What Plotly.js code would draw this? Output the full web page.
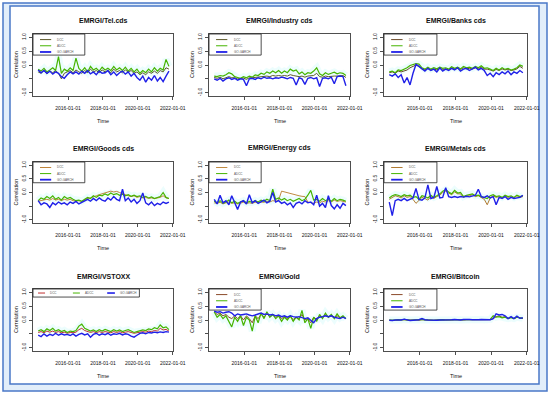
<!DOCTYPE html>
<html><head><meta charset="utf-8">
<script src="https://cdn.plot.ly/plotly-3.0.1.min.js"></script>
<style>html,body{margin:0;padding:0;background:#fff;}#chart{width:550px;height:394px;}</style>
</head><body><div id="chart"></div>
<script>
// ---------- data ----------
const dates = ["2014-04-15","2014-06-15","2014-08-15","2014-10-15","2014-12-15","2015-02-15","2015-04-15","2015-06-15","2015-08-15","2015-10-15","2015-12-15",
"2016-02-15","2016-04-15","2016-06-15","2016-08-15","2016-10-15","2016-12-15","2017-02-15","2017-04-15","2017-06-15","2017-08-15","2017-10-15","2017-12-15",
"2018-02-15","2018-04-15","2018-06-15","2018-08-15","2018-10-15","2018-12-15","2019-02-15","2019-04-15","2019-06-15","2019-08-15","2019-10-15","2019-12-15",
"2020-02-15","2020-04-15","2020-06-15","2020-08-15","2020-10-15","2020-12-15","2021-02-15","2021-04-15","2021-06-15","2021-08-15","2021-10-15"];
const titles = ["EMRGI/Tel.cds","EMRGI/Industry cds","EMRGI/Banks cds","EMRGI/Goods cds","EMRGI/Energy cds","EMRGI/Metals cds","EMRGI/VSTOXX","EMRGI/Gold","EMRGI/Bitcoin"];
const seriesNames = ["DCC","ADCC","GO-GARCH"];
const xTickVals = ["2016-01-01","2018-01-01","2020-01-01","2022-01-01"];
const xTickText = ["2016-01-01","2018-01-01","2020-01-01","2022-01-01"];
const yTickVals = [-1,-0.5,0,0.5,1];
const yTickText = ["-1.0","","0.0","0.5","1.0"];
const xTitle = "Time";
const yTitle = "Correlation";

const telS1 = [-0.25,-0.30,-0.20,-0.32,-0.22,-0.28,-0.20,-0.30,-0.50,-0.30,-0.25,-0.20,-0.28,-0.18,-0.25,-0.30,-0.20,-0.28,-0.15,-0.25,-0.20,-0.28,-0.18,-0.25,-0.20,-0.28,-0.15,-0.25,-0.20,-0.28,-0.18,-0.25,-0.20,-0.30,-0.25,-0.35,-0.28,-0.35,-0.25,-0.30,-0.22,-0.30,-0.20,-0.25,-0.10,-0.15];
const telS2 = [-0.15,-0.22,-0.12,-0.25,-0.18,-0.10,-0.20,0.30,-0.30,-0.15,-0.22,-0.10,-0.20,0.25,-0.12,-0.22,-0.10,-0.25,-0.05,-0.18,-0.12,-0.22,-0.08,-0.18,-0.12,-0.20,-0.05,-0.18,-0.10,-0.20,-0.08,-0.22,-0.12,-0.25,-0.15,-0.30,-0.20,-0.28,-0.15,-0.25,-0.10,-0.22,-0.12,-0.18,0.20,-0.05];
const telS3 = [-0.18,-0.28,-0.20,-0.30,-0.22,-0.33,-0.25,-0.30,-0.42,-0.48,-0.35,-0.25,-0.32,-0.25,-0.33,-0.22,-0.30,-0.20,-0.32,-0.25,-0.35,-0.22,-0.30,-0.28,-0.20,-0.35,-0.25,-0.38,-0.28,-0.22,-0.33,-0.25,-0.40,-0.30,-0.45,-0.55,-0.40,-0.62,-0.45,-0.55,-0.38,-0.58,-0.45,-0.60,-0.40,-0.22];

const indS1 = [-0.45,-0.48,-0.44,-0.50,-0.46,-0.42,-0.46,-0.46,-0.50,-0.48,-0.47,-0.52,-0.46,-0.46,-0.45,-0.44,-0.42,-0.42,-0.40,-0.42,-0.38,-0.40,-0.38,-0.40,-0.38,-0.40,-0.35,-0.38,-0.40,-0.42,-0.40,-0.44,-0.40,-0.40,-0.38,-0.30,-0.42,-0.44,-0.40,-0.42,-0.40,-0.40,-0.40,-0.38,-0.38,-0.45];
const indS2 = [-0.40,-0.42,-0.38,-0.40,-0.35,-0.28,-0.32,-0.42,-0.45,-0.48,-0.42,-0.46,-0.40,-0.44,-0.36,-0.38,-0.30,-0.34,-0.25,-0.30,-0.22,-0.28,-0.20,-0.30,-0.22,-0.28,-0.15,-0.22,-0.18,-0.32,-0.25,-0.35,-0.28,-0.30,-0.22,-0.10,-0.32,-0.38,-0.28,-0.34,-0.30,-0.26,-0.32,-0.28,-0.30,-0.38];
const indS3 = [-0.50,-0.55,-0.48,-0.58,-0.50,-0.46,-0.52,-0.48,-0.55,-0.50,-0.52,-0.75,-0.50,-0.48,-0.52,-0.46,-0.50,-0.44,-0.48,-0.46,-0.50,-0.46,-0.48,-0.44,-0.46,-0.50,-0.45,-0.48,-0.72,-0.46,-0.50,-0.70,-0.48,-0.45,-0.50,-0.46,-0.78,-0.48,-0.46,-0.50,-0.44,-0.68,-0.42,-0.40,-0.42,-0.75];

const bankS1 = [-0.28,-0.25,-0.30,-0.22,-0.25,-0.20,-0.18,-0.10,-0.05,0.00,-0.05,-0.15,-0.18,-0.12,-0.18,-0.14,-0.18,-0.12,-0.16,-0.14,-0.18,-0.10,-0.15,-0.12,-0.16,-0.10,-0.14,-0.12,-0.15,-0.10,-0.14,-0.08,-0.15,-0.15,-0.18,-0.22,-0.16,-0.20,-0.14,-0.18,-0.15,-0.20,-0.18,-0.14,-0.05,-0.12];
const bankS2 = [-0.25,-0.22,-0.28,-0.18,-0.20,-0.15,-0.10,-0.02,0.02,0.05,0.03,-0.10,-0.15,-0.08,-0.15,-0.10,-0.14,-0.08,-0.12,-0.10,-0.15,-0.06,-0.12,-0.08,-0.14,-0.05,-0.10,-0.08,-0.12,-0.05,-0.10,-0.03,-0.12,-0.10,-0.15,-0.20,-0.12,-0.18,-0.10,-0.16,-0.12,-0.18,-0.15,-0.10,0.00,-0.05];
const bankS3 = [-0.35,-0.40,-0.32,-0.45,-0.35,-0.65,-0.45,-0.72,-0.30,0.02,-0.05,-0.15,-0.22,-0.12,-0.20,-0.15,-0.25,-0.10,-0.22,-0.15,-0.20,-0.12,-0.18,-0.10,-0.22,-0.15,-0.12,-0.20,-0.15,-0.08,-0.18,-0.12,-0.20,-0.38,-0.30,-0.42,-0.28,-0.35,-0.25,-0.32,-0.22,-0.35,-0.25,-0.30,-0.20,-0.28];

const goodsS1 = [-0.32,-0.30,-0.28,-0.25,-0.28,-0.22,-0.28,-0.25,-0.30,-0.25,-0.28,-0.25,-0.30,-0.32,-0.30,-0.33,-0.28,-0.22,-0.20,-0.15,-0.12,-0.08,-0.05,0.00,0.02,0.05,0.02,0.04,0.00,-0.05,-0.10,-0.12,-0.15,-0.12,-0.18,-0.15,-0.20,-0.18,-0.22,-0.20,-0.22,-0.20,-0.18,-0.12,-0.20,-0.22];
const goodsS2 = [-0.30,-0.20,-0.25,-0.15,-0.22,-0.12,-0.25,-0.18,-0.28,-0.15,-0.22,-0.18,-0.25,-0.30,-0.28,-0.32,-0.25,-0.18,-0.22,-0.12,-0.18,-0.10,-0.12,-0.05,-0.10,-0.02,-0.08,-0.04,-0.10,-0.06,-0.12,-0.08,-0.14,-0.10,-0.15,-0.12,-0.18,-0.14,-0.20,-0.16,-0.22,-0.18,-0.15,0.00,-0.18,-0.22];
const goodsS3 = [-0.30,-0.45,-0.38,-0.42,-0.55,-0.38,-0.45,-0.35,-0.42,-0.38,-0.45,-0.35,-0.40,-0.33,-0.42,-0.36,-0.30,-0.25,-0.32,-0.22,-0.30,-0.20,-0.28,-0.32,-0.20,-0.28,-0.15,-0.25,-0.30,0.12,-0.30,-0.20,-0.35,-0.25,-0.40,-0.30,-0.02,-0.38,-0.45,-0.35,-0.48,-0.40,-0.45,-0.35,-0.40,-0.35];

const enS1 = [-0.38,-0.40,-0.36,-0.42,-0.38,-0.35,-0.40,-0.38,-0.42,-0.38,-0.36,-0.40,-0.38,-0.40,-0.36,-0.38,-0.35,-0.36,-0.32,-0.35,-0.30,-0.32,-0.28,0.05,0.02,-0.02,-0.05,-0.08,-0.10,-0.12,-0.14,-0.15,-0.35,-0.38,-0.40,-0.35,-0.38,-0.32,-0.35,-0.30,-0.35,-0.28,-0.33,-0.30,-0.32,-0.35];
const enS2 = [-0.32,-0.38,-0.30,-0.40,-0.35,-0.28,-0.38,-0.32,-0.40,-0.35,-0.30,-0.38,-0.33,-0.36,-0.30,-0.35,-0.28,-0.32,-0.25,-0.30,0.12,-0.25,-0.20,-0.28,-0.22,-0.30,-0.25,-0.32,-0.28,-0.22,-0.30,-0.25,-0.10,0.08,-0.28,-0.25,-0.32,-0.22,-0.30,-0.25,-0.32,-0.22,-0.30,-0.25,-0.28,-0.32];
const enS3 = [-0.25,-0.42,-0.10,-0.38,-0.30,-0.45,-0.12,-0.40,-0.62,-0.35,-0.30,-0.42,-0.08,-0.38,-0.30,-0.40,-0.35,-0.28,-0.38,-0.32,0.00,-0.35,-0.30,-0.40,-0.35,-0.45,-0.38,-0.55,-0.40,-0.35,-0.42,-0.30,-0.38,-0.35,-0.45,-0.10,-0.50,-0.40,-0.55,-0.12,-0.48,-0.60,-0.45,-0.58,-0.40,-0.48];

const metS1 = [-0.25,-0.18,-0.12,-0.15,-0.20,-0.12,-0.18,-0.15,-0.25,-0.40,-0.30,-0.18,-0.22,-0.28,-0.15,-0.22,-0.15,-0.10,0.00,0.05,-0.02,-0.08,0.02,-0.05,-0.05,-0.18,-0.12,-0.12,-0.08,-0.15,-0.12,-0.20,-0.25,-0.45,-0.20,-0.12,-0.18,-0.15,-0.20,-0.12,-0.18,-0.15,-0.20,-0.12,-0.18,-0.15];
const metS2 = [-0.20,-0.12,-0.08,-0.10,-0.15,-0.08,-0.12,-0.10,-0.18,-0.15,-0.25,-0.12,-0.15,-0.20,-0.10,-0.18,-0.12,-0.05,0.05,0.10,0.02,-0.05,0.08,-0.02,0.00,-0.15,-0.10,-0.08,-0.05,-0.12,-0.10,-0.15,-0.18,-0.22,-0.12,-0.08,-0.15,-0.12,-0.18,-0.10,-0.15,-0.12,-0.18,-0.10,-0.15,-0.12];
const metS3 = [-0.35,-0.85,-0.30,-0.25,-0.30,-0.22,-0.30,-0.25,-0.20,0.15,-0.25,-0.28,-0.20,0.28,-0.22,-0.18,0.22,-0.20,-0.18,0.18,-0.15,-0.18,-0.15,-0.18,-0.15,-0.17,-0.14,-0.16,-0.12,-0.10,0.12,-0.15,-0.18,-0.12,-0.20,-0.15,-0.45,-0.18,-0.22,-0.15,-0.25,-0.18,-0.22,-0.20,-0.18,-0.10];

const vsS1 = [-0.45,-0.42,-0.46,-0.40,-0.44,-0.40,-0.45,-0.42,-0.46,-0.44,-0.48,-0.45,-0.46,-0.44,-0.35,-0.30,-0.38,-0.42,-0.45,-0.42,-0.46,-0.42,-0.45,-0.42,-0.44,-0.46,-0.42,-0.45,-0.42,-0.46,-0.44,-0.42,-0.45,-0.48,-0.46,-0.44,-0.42,-0.44,-0.40,-0.42,-0.38,-0.40,-0.30,-0.36,-0.34,-0.40];
const vsS2 = [-0.40,-0.35,-0.42,-0.32,-0.38,-0.30,-0.40,-0.35,-0.42,-0.38,-0.45,-0.40,-0.42,-0.38,-0.22,-0.15,-0.30,-0.35,-0.40,-0.36,-0.42,-0.35,-0.40,-0.34,-0.38,-0.42,-0.35,-0.40,-0.36,-0.42,-0.38,-0.35,-0.40,-0.45,-0.42,-0.40,-0.36,-0.38,-0.32,-0.35,-0.28,-0.32,-0.18,-0.28,-0.25,-0.35];
const vsS3 = [-0.55,-0.60,-0.50,-0.58,-0.52,-0.56,-0.48,-0.55,-0.50,-0.54,-0.52,-0.56,-0.50,-0.58,-0.52,-0.48,-0.54,-0.50,-0.62,-0.52,-0.48,-0.55,-0.50,-0.53,-0.48,-0.55,-0.50,-0.52,-0.48,-0.54,-0.50,-0.52,-0.58,-0.62,-0.55,-0.48,-0.46,-0.50,-0.45,-0.47,-0.44,-0.46,-0.43,-0.45,-0.42,-0.44];

const goldS1 = [0.30,0.20,0.25,0.15,0.20,0.10,0.05,0.15,0.05,0.15,0.00,0.15,0.05,-0.10,0.15,0.05,0.20,0.10,0.22,0.12,0.18,0.10,0.15,0.05,0.12,0.05,0.12,0.02,0.10,0.05,0.20,0.00,0.05,-0.10,0.10,0.02,0.15,0.08,0.18,0.10,0.15,0.08,0.15,0.08,0.12,0.05];
const goldS2 = [0.30,0.10,0.20,0.05,0.15,-0.05,-0.25,0.10,-0.05,0.15,-0.20,0.10,0.00,-0.40,0.15,-0.10,0.25,0.05,0.30,0.10,0.20,0.05,0.15,-0.05,0.10,0.00,0.15,-0.05,0.10,0.00,0.35,-0.10,0.05,-0.30,0.10,-0.05,0.20,0.05,0.25,0.10,0.20,0.05,0.22,0.08,0.15,0.05];
const goldS3 = [0.32,0.28,0.30,0.25,0.28,0.30,0.25,0.15,0.22,0.18,0.20,0.22,0.18,0.15,0.18,0.22,0.25,0.20,0.22,0.18,0.20,0.15,0.18,0.12,0.15,0.10,0.15,0.12,0.10,0.12,0.08,0.05,0.08,-0.02,-0.10,0.05,0.10,0.12,0.15,0.12,0.15,0.10,0.08,0.05,0.10,0.05];

const btcS1 = [0.00,-0.02,-0.01,0.00,-0.01,0.01,0.00,-0.01,0.00,0.00,-0.01,0.01,0.00,0.00,-0.01,-0.01,0.00,-0.01,0.00,0.00,-0.01,0.00,0.01,0.00,0.00,0.00,0.01,0.01,0.00,0.00,0.00,0.01,0.00,0.00,0.01,0.05,0.12,0.15,0.10,0.12,0.06,0.10,0.05,0.10,0.08,0.05];
const btcS2 = [0.00,-0.01,0.00,0.01,0.00,0.02,0.00,-0.01,0.00,0.01,0.00,0.02,0.00,0.01,0.00,-0.01,0.00,0.00,0.01,0.00,0.00,0.01,0.02,0.00,0.01,0.00,0.01,0.02,0.01,0.00,0.01,0.02,0.00,0.01,0.02,0.15,0.10,0.12,0.08,0.10,0.05,0.08,0.05,0.10,0.08,0.06];
const btcS3 = [-0.01,-0.02,0.00,-0.01,0.00,0.03,0.00,-0.02,-0.01,0.00,0.01,0.05,0.01,0.00,-0.01,0.00,-0.01,0.00,0.00,-0.01,0.00,0.01,0.02,0.01,0.00,0.02,0.03,0.02,0.01,0.00,0.01,0.02,0.01,0.00,0.01,0.05,0.22,0.18,0.20,0.15,0.05,0.12,0.05,0.14,0.06,0.08];

// ---------- styling / layout ----------
const panels = [
  [telS1,telS2,telS3],[indS1,indS2,indS3],[bankS1,bankS2,bankS3],
  [goodsS1,goodsS2,goodsS3],[enS1,enS2,enS3],[metS1,metS2,metS3],
  [vsS1,vsS2,vsS3],[goldS1,goldS2,goldS3],[btcS1,btcS2,btcS3]
];
const c1 = ["#5e5a2c","#5e5a2c","#6b4a2a","#c0843a","#c08a40","#b07a30","#c03030","#8b4a2a","#8b4a2a"];
const c2 = "#46b400", c3 = "#2020e8";
const W = 550, H = 394;
const colsPx = [[33,173],[209,350],[384,527]];
const rowsPx = [[34,96],[162,223],[289,351]];
const titleY = [21,148,276], timeY = [121,248,376];
const xRange = ["2013-12-28","2022-01-08"];
const F = "Liberation Sans, Arial, sans-serif";
const FN = "Liberation Sans Narrow, Arial Narrow, Liberation Sans, Arial, sans-serif";

const traces = [], annotations = [], shapes = [];
const layout = {width:W, height:H, margin:{l:0,r:0,t:0,b:0}, paper_bgcolor:"#fff", plot_bgcolor:"#fff", showlegend:false};

// outer frame
shapes.push({type:"rect", xref:"paper", yref:"paper", x0:3/W, x1:547/W, y0:1-391/H, y1:1-3/H, line:{color:"#4a78c8", width:1.5}, fillcolor:"#e2eefa", layer:"below"});
shapes.push({type:"rect", xref:"paper", yref:"paper", x0:10/W, x1:539/W, y0:1-384/H, y1:1-6/H, line:{color:"#4a78c8", width:1.5}, fillcolor:"#ffffff", layer:"below"});

panels.forEach((ser, i) => {
  const r = Math.floor(i/3), c = i%3, n = i+1;
  const xn = n===1 ? "x" : "x"+n, yn = n===1 ? "y" : "y"+n;
  const xk = n===1 ? "xaxis" : "xaxis"+n, yk = n===1 ? "yaxis" : "yaxis"+n;
  const [L,R] = colsPx[c], [T,B] = rowsPx[r];
  layout[xk] = {domain:[L/W, R/W], anchor:yn, type:"date", range:xRange, tickmode:"array", tickvals:xTickVals, ticktext:xTickText,
    ticks:"outside", ticklen:3, tickwidth:0.8, tickcolor:"#222", showline:true, mirror:true, linecolor:"#222", linewidth:0.8,
    showgrid:false, zeroline:false, tickfont:{family:F, size:5, color:"#111"}, ticklabelstandoff:4, tickangle:0};
  layout[yk] = {domain:[1-B/H, 1-T/H], anchor:xn, range:[-1.12,1.12], tickmode:"array", tickvals:yTickVals, ticktext:yTickText,
    ticks:"outside", ticklen:3, tickwidth:0.8, tickcolor:"#222", showline:true, mirror:true, linecolor:"#222", linewidth:0.8,
    showgrid:false, zeroline:false, tickfont:{family:F, size:5, color:"#111"}, tickangle:-90, ticklabelstandoff:1};
  // faint halo band behind the green series
  traces.push({x:dates, y:ser[1], xaxis:xn, yaxis:yn, mode:"lines", line:{color:"rgba(170,245,245,0.22)", width:7}, hoverinfo:"skip"});
  traces.push({x:dates, y:ser[0], xaxis:xn, yaxis:yn, mode:"lines", name:seriesNames[0], line:{color:c1[i], width:1.0}});
  traces.push({x:dates, y:ser[1], xaxis:xn, yaxis:yn, mode:"lines", name:seriesNames[1], line:{color:c2, width:1.2}});
  traces.push({x:dates, y:ser[2], xaxis:xn, yaxis:yn, mode:"lines", name:seriesNames[2], line:{color:c3, width:1.4}});
  // titles
  annotations.push({xref:"paper", yref:"paper", x:(L+R)/2/W, y:1-titleY[r]/H, text:"<b>"+titles[i]+"</b>", showarrow:false, font:{family:FN, size:7, color:"#111"}, xanchor:"center", yanchor:"middle"});
  annotations.push({xref:"paper", yref:"paper", x:(L+R)/2/W, y:1-timeY[r]/H, text:xTitle, showarrow:false, font:{family:F, size:5.5, color:"#111"}, xanchor:"center", yanchor:"middle"});
  annotations.push({xref:"paper", yref:"paper", x:(L-17)/W, y:1-(T+B)/2/H, text:yTitle, textangle:-90, showarrow:false, font:{family:F, size:5.5, color:"#111"}, xanchor:"center", yanchor:"middle"});
  // legend box
  const xd = xn+" domain", yd = yn+" domain";
  const cols = [c1[i], c2, c3];
  if (i === 6) {
    shapes.push({type:"rect", xref:xd, yref:yd, x0:0, x1:0.76, y0:0.87, y1:1, line:{color:"#222", width:0.8}, fillcolor:"#fff", layer:"above"});
    const lx = [[0.036,0.086,0.11],[0.285,0.335,0.36],[0.53,0.585,0.61]];
    lx.forEach((p,k) => {
      shapes.push({type:"line", xref:xd, yref:yd, x0:p[0], x1:p[1], y0:0.935, y1:0.935, line:{color:cols[k], width:k===2?1.6:1}, layer:"above"});
      annotations.push({xref:xd, yref:yd, x:p[2], y:0.935, text:seriesNames[k], showarrow:false, xanchor:"left", yanchor:"middle", font:{family:F, size:3, color:"#555"}});
    });
  } else {
    shapes.push({type:"rect", xref:xd, yref:yd, x0:0, x1:0.37, y0:0.66, y1:1, line:{color:"#222", width:0.8}, fillcolor:"#fff", layer:"above"});
    [0.91,0.81,0.71].forEach((yy,k) => {
      shapes.push({type:"line", xref:xd, yref:yd, x0:0.05, x1:0.13, y0:yy, y1:yy, line:{color:cols[k], width:k===2?1.8:1}, layer:"above"});
      annotations.push({xref:xd, yref:yd, x:0.16, y:yy, text:seriesNames[k], showarrow:false, xanchor:"left", yanchor:"middle", font:{family:F, size:3, color:"#555"}});
    });
  }
});
layout.shapes = shapes;
layout.annotations = annotations;
Plotly.newPlot("chart", traces, layout, {staticPlot:true, displayModeBar:false});
</script></body></html>
